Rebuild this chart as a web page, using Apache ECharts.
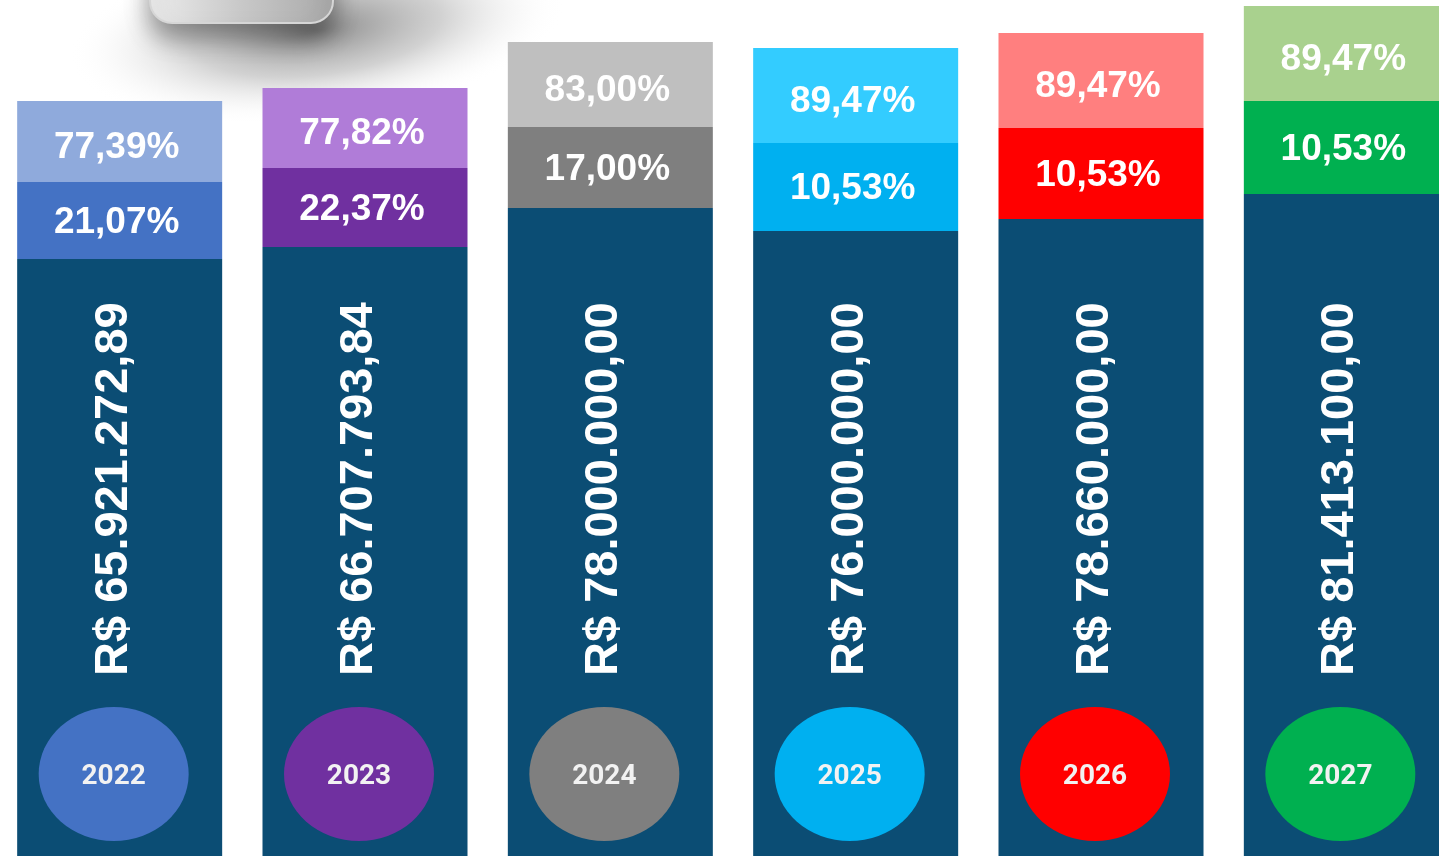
<!DOCTYPE html>
<html>
<head>
<meta charset="utf-8">
<title>Orçamento por ano</title>
<script src="https://cdn.jsdelivr.net/npm/echarts@6/dist/echarts.min.js"></script>
<style>
  html, body { margin: 0; padding: 0; background: #fff; overflow: hidden; }
  /* a área do gráfico passa um pouco das bordas da janela, como na figura */
  #chart { position: absolute; left: -3px; top: 0; width: 1472px; height: 856px; }
</style>
</head>
<body>
<div id="chart"></div>
<script>
// anos
const years = ['2022', '2023', '2024', '2025', '2026', '2027']
// valores totais (R$)
const amounts = [65921272.89, 66707793.84, 78000000.00, 76000000.00, 78660000.00, 81413100.00]
// percentuais
const lowerShare = [21.07, 22.37, 17.00, 10.53, 10.53, 10.53]
const upperShare = [77.39, 77.82, 83.00, 89.47, 89.47, 89.47]
// altura de cada bloco da coluna
const baseHeight = [597, 609, 648, 625, 637, 662]
const lowerHeight = [77, 79, 81, 88, 91, 93]
const upperHeight = [81, 80, 85, 95, 95, 95]

const baseColor = '#0b4d74'
const lowerColors = ['#4472c4', '#7030a0', '#7f7f7f', '#00b0f0', '#ff0000', '#00b050']
const upperColors = ['#8faadc', '#b07cd8', '#bfbfbf', '#33ccff', '#ff7f7f', '#a9d18e']

function pct(v) {
  return v.toFixed(2).replace('.', ',') + '%'
}

function brl(v) {
  const parts = v.toFixed(2).split('.')
  const int = parts[0].replace(/\B(?=(\d{3})+(?!\d))/g, '.')
  return 'R$ ' + int + ',' + parts[1]
}

const font = 'Liberation Sans, Arial, sans-serif'

const chart = echarts.init(document.getElementById('chart'))

const option = {
  backgroundColor: '#fff',
  animation: false,
  grid: { left: 0, right: 0, top: 0, bottom: 0 },
  xAxis: {
    type: 'category',
    data: years,
    show: false
  },
  yAxis: {
    type: 'value',
    min: 0,
    max: 856,
    show: false
  },
  graphic: [
    {
      // sombra da figura cortada no topo
      type: 'circle',
      shape: { cx: 320, cy: 30, r: 250 },
      scaleY: 0.36,
      rotation: 0.12,
      originX: 320,
      originY: 30,
      style: {
        fill: new echarts.graphic.RadialGradient(0.5, 0.5, 0.5, [
          { offset: 0, color: 'rgba(115,115,115,0.85)' },
          { offset: 0.5, color: 'rgba(165,165,165,0.5)' },
          { offset: 1, color: 'rgba(255,255,255,0)' }
        ])
      },
      z: 0
    },
    {
      type: 'rect',
      shape: { x: 153, y: -50, width: 183, height: 73, r: 22 },
      style: {
        fill: new echarts.graphic.LinearGradient(0, 0, 1, 0, [
          { offset: 0, color: '#ececec' },
          { offset: 0.5, color: '#c8c8c8' },
          { offset: 1, color: '#a9a9a9' }
        ]),
        stroke: '#d6d6d6',
        lineWidth: 2,
        shadowBlur: 25,
        shadowOffsetY: 14,
        shadowColor: 'rgba(0,0,0,0.4)'
      },
      z: 1
    }
  ],
  series: [
    {
      name: 'base',
      type: 'bar',
      stack: 'col',
      barWidth: 205,
      data: baseHeight,
      itemStyle: { color: baseColor },
      label: {
        show: true,
        position: 'insideBottom',
        distance: 180,
        rotate: 90,
        align: 'left',
        verticalAlign: 'middle',
        offset: [0, -6],
        formatter: p => brl(amounts[p.dataIndex]),
        color: '#fff',
        fontFamily: font,
        fontWeight: 'bold',
        fontSize: 47
      },
      z: 2
    },
    {
      name: 'lower',
      type: 'bar',
      stack: 'col',
      barWidth: 205,
      data: lowerHeight,
      itemStyle: { color: p => lowerColors[p.dataIndex] },
      label: {
        show: true,
        position: 'inside',
        offset: [-3, 2],
        formatter: p => pct(lowerShare[p.dataIndex]),
        color: '#fff',
        fontFamily: font,
        fontWeight: 'bold',
        fontSize: 37
      },
      z: 2
    },
    {
      name: 'upper',
      type: 'bar',
      stack: 'col',
      barWidth: 205,
      data: upperHeight,
      itemStyle: { color: p => upperColors[p.dataIndex] },
      label: {
        show: true,
        position: 'inside',
        offset: [-3, 6],
        formatter: p => pct(upperShare[p.dataIndex]),
        color: '#fff',
        fontFamily: font,
        fontWeight: 'bold',
        fontSize: 37
      },
      z: 2
    },
    {
      name: 'ano',
      type: 'scatter',
      symbol: 'circle',
      symbolSize: [150, 134],
      symbolOffset: [-6, 0],
      data: years.map(y => [y, 82]),
      itemStyle: { color: p => lowerColors[p.dataIndex], opacity: 1 },
      label: {
        show: true,
        position: 'inside',
        offset: [0, 3],
        formatter: p => years[p.dataIndex],
        color: '#f2f2f2',
        fontFamily: 'Roboto, sans-serif',
        fontWeight: 'bold',
        fontSize: 28
      },
      z: 3
    }
  ]
}

chart.setOption(option)
</script>
</body>
</html>
